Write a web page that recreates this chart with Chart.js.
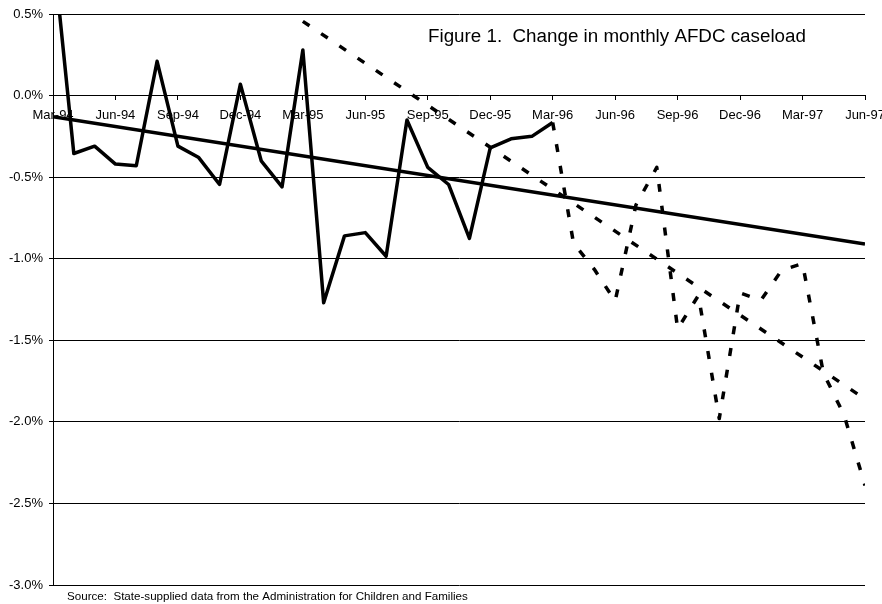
<!DOCTYPE html>
<html>
<head>
<meta charset="utf-8">
<script src="https://cdn.jsdelivr.net/npm/chart.js@4.4.1/dist/chart.umd.min.js"></script>
<style>
  html, body { margin: 0; padding: 0; background: #fff; }
  #wrap { position: relative; width: 882px; height: 604px; }
</style>
</head>
<body>
<div id="wrap"><canvas id="c"></canvas></div>
<script>
// monthly points Mar-94 .. Jun-97; only every third label is shown
const MONTHS = [
  "Mar-94","Apr-94","May-94","Jun-94","Jul-94","Aug-94","Sep-94","Oct-94","Nov-94","Dec-94",
  "Jan-95","Feb-95","Mar-95","Apr-95","May-95","Jun-95","Jul-95","Aug-95","Sep-95","Oct-95",
  "Nov-95","Dec-95","Jan-96","Feb-96","Mar-96","Apr-96","May-96","Jun-96","Jul-96","Aug-96",
  "Sep-96","Oct-96","Nov-96","Dec-96","Jan-97","Feb-97","Mar-97","Apr-97","May-97","Jun-97"
];

// % change in caseload, observed (solid)
const ACTUAL = [
  0.90, -0.355, -0.31, -0.42, -0.43, 0.21, -0.31, -0.38, -0.545, 0.07,
  -0.40, -0.56, 0.28, -1.27, -0.86, -0.84, -0.985, -0.15, -0.44, -0.545,
  -0.875, -0.32, -0.265, -0.25, -0.165, null, null, null, null, null,
  null, null, null, null, null, null, null, null, null, null
];

// later months (dashed)
const LATER = [
  null, null, null, null, null, null, null, null, null, null,
  null, null, null, null, null, null, null, null, null, null,
  null, null, null, null, -0.165, -0.905, -1.065, -1.26, -0.67, -0.44,
  -1.43, -1.225, -1.98, -1.21, -1.255, -1.07, -1.03, -1.70, -1.96, -2.39
];

// straight trend lines: end points only
const TREND_ALL = [
  -0.13, null, null, null, null, null, null, null, null, null,
  null, null, null, null, null, null, null, null, null, null,
  null, null, null, null, null, null, null, null, null, null,
  null, null, null, null, null, null, null, null, null, -0.91
];
const TREND_LATE = [
  null, null, null, null, null, null, null, null, null, null,
  null, null, 0.455, null, null, null, null, null, null, null,
  null, null, null, null, null, null, null, null, null, null,
  null, null, null, null, null, null, null, null, null, -1.86
];

const TITLE = "Figure 1.  Change in monthly AFDC caseload";
const SOURCE = "Source:  State-supplied data from the Administration for Children and Families";

const FONT = "'Liberation Sans', Arial, sans-serif";
Chart.defaults.font.family = FONT;
Chart.defaults.font.size = 13;
Chart.defaults.color = "#000";

const DASH = [8, 14];
const line = (data, dash) => ({
  data, borderColor: "#000", borderWidth: 3.5, borderDash: dash || [],
  borderCapStyle: "butt", borderJoinStyle: "round",
  pointRadius: 0, pointHoverRadius: 0, tension: 0, spanGaps: true, clip: 0, fill: false,
});

// title sits inside the plot, source note under it
const notes = {
  id: "notes",
  afterDraw(chart) {
    const ctx = chart.ctx;
    ctx.save();
    ctx.fillStyle = "#000";
    ctx.textBaseline = "alphabetic";
    ctx.font = "18.8px " + FONT;
    ctx.fillText(TITLE, 428, 42);
    ctx.font = "11.6px " + FONT;
    ctx.fillText(SOURCE, 67, 600);
    ctx.restore();
  },
};

new Chart(document.getElementById("c"), {
  type: "line",
  data: {
    labels: MONTHS,
    datasets: [
      line(ACTUAL),
      line(TREND_ALL),
      line(TREND_LATE, DASH),
      line(LATER, DASH),
    ],
  },
  options: {
    responsive: true, maintainAspectRatio: false, animation: false, events: [],
    devicePixelRatio: 1,
    layout: { padding: { top: 14, bottom: 19, left: 0, right: 0 } },
    plugins: { legend: { display: false }, tooltip: { enabled: false } },
    scales: {
      x: {
        type: "category", offset: false, position: { y: 0 },
        grid: { drawOnChartArea: false, drawTicks: true, tickLength: 4, color: "#000", lineWidth: 1 },
        border: { display: true, color: "#000", width: 1 },
        ticks: { autoSkip: false, maxRotation: 0, padding: 8 },
        afterBuildTicks: s => { s.ticks = s.ticks.filter(t => t.value % 3 === 0); },
        afterFit: s => { s.paddingRight = 17; },
      },
      y: {
        min: -3, max: 0.5,
        ticks: { stepSize: 0.5, padding: 6, callback: v => v.toFixed(1) + "%" },
        grid: { color: "#000", lineWidth: 1, tickLength: 4, drawTicks: true },
        border: { display: true, color: "#000", width: 1 },
        afterFit: s => { s.width = 53; },
      },
    },
  },
  plugins: [notes],
});
</script>
</body>
</html>
